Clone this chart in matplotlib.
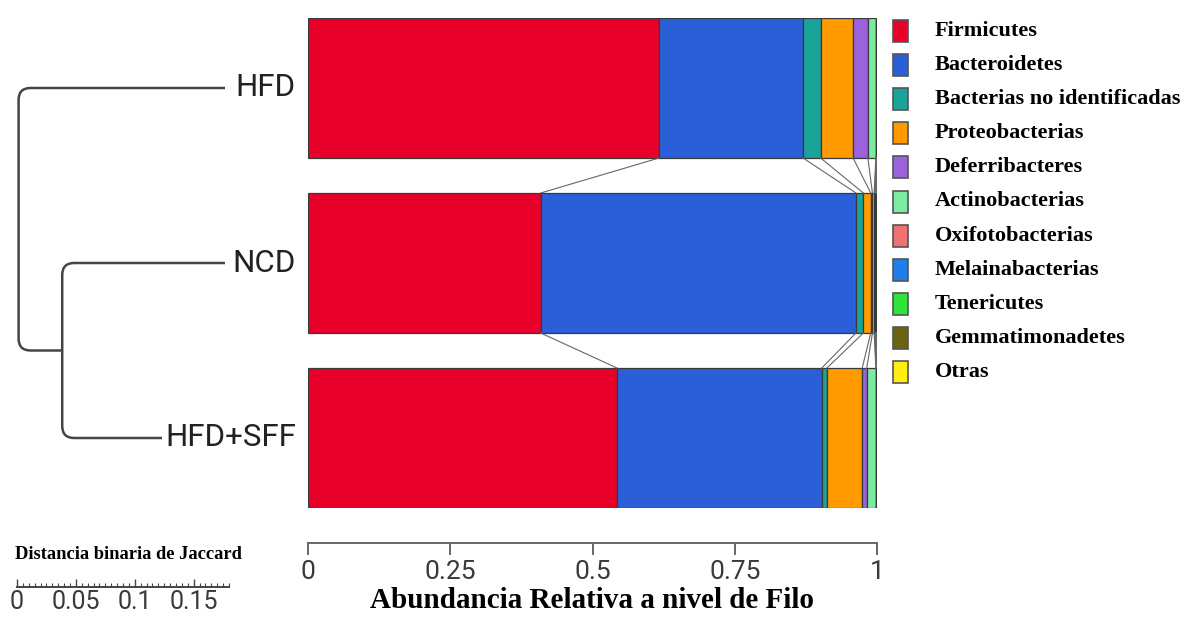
import matplotlib
matplotlib.use("Agg")
import matplotlib.pyplot as plt
from matplotlib.patches import Rectangle, PathPatch
from matplotlib.path import Path
import numpy as np

# ---- data ----
groups = ["HFD", "NCD", "HFD+SFF"]
phyla = ["Firmicutes", "Bacteroidetes", "Bacterias no identificadas",
         "Proteobacterias", "Deferribacteres", "Actinobacterias",
         "Oxifotobacterias", "Melainabacterias", "Tenericutes",
         "Gemmatimonadetes", "Otras"]
colors = ["#E8002A", "#2B5FD8", "#1AA398", "#FF9A00", "#9A63DC", "#7BEBA2",
          "#F07272", "#1F7FEA", "#30E43A", "#6A6410", "#FFEE10"]
abund_hfd = [0.617, 0.253, 0.031, 0.057, 0.026, 0.014, 0.0005, 0.0005, 0.0005, 0.0003, 0.0002]
abund_ncd = [0.409, 0.554, 0.013, 0.013, 0.003, 0.003, 0.001, 0.001, 0.001, 0.001, 0.001]
abund_sff = [0.543, 0.360, 0.009, 0.062, 0.008, 0.016, 0.0005, 0.0005, 0.0005, 0.0003, 0.0002]
abundances = [abund_hfd, abund_ncd, abund_sff]
xticks = [0, 0.25, 0.5, 0.75, 1]
xtick_labels = ["0", "0.25", "0.5", "0.75", "1"]

# Jaccard clustering heights: NCD + HFD+SFF first, then the root with HFD
merge_heights = [0.138, 0.175]
scale_ticks = [0, 0.05, 0.1, 0.15]
scale_labels = ["0", "0.05", "0.1", "0.15"]

W, H = 1185, 617
fig = plt.figure(figsize=(W / 100, H / 100), dpi=100)
fig.patch.set_facecolor("white")


def fbox(x0, y0, x1, y1):
    return [x0 / W, 1 - y1 / H, (x1 - x0) / W, (y1 - y0) / H]


sans = ["Roboto", "DejaVu Sans"]
serif = ["Liberation Serif", "DejaVu Serif"]

# ---- stacked bars ----
ax = fig.add_axes(fbox(308, 18, 877, 508))
ypos = np.arange(len(groups))
bar_h = 0.8
for gi, vals in enumerate(abundances):
    left = 0.0
    for pi, v in enumerate(vals):
        ax.barh(ypos[gi], v, left=left, height=bar_h, color=colors[pi],
                edgecolor="#3a3a3a", linewidth=0.9)
        left += v

# connectors between adjacent bars
for gi in range(len(groups) - 1):
    cu = np.cumsum(abundances[gi])[:-1]
    cl = np.cumsum(abundances[gi + 1])[:-1]
    for a, b in zip(cu, cl):
        ax.plot([a, b], [ypos[gi] + bar_h / 2, ypos[gi + 1] - bar_h / 2],
                color="#666666", lw=0.8)

ax.set_xlim(0, 1)
ax.set_ylim(len(groups) - 1 + 0.4, -0.4)
for s in ["top", "right", "left"]:
    ax.spines[s].set_visible(False)
ax.spines["bottom"].set_position(("outward", 25))
ax.spines["bottom"].set_color("#666666")
ax.spines["bottom"].set_linewidth(1.4)
ax.set_yticks([])
ax.set_xticks(xticks)
ax.set_xticklabels(xtick_labels, fontfamily=sans, fontsize=19, color="#3a3a3a")
ax.tick_params(axis="x", direction="out", length=8.5, width=1.4,
               color="#666666", pad=4)
ax.set_xlabel("Abundancia Relativa a nivel de Filo", fontfamily=serif,
              fontweight="bold", fontsize=21, labelpad=2, color="black")

# ---- dendrogram ----
dax = fig.add_axes(fbox(18, 18, 225, 508))
dax.set_xlim(0.1755, 0)
dax.set_ylim(len(groups) - 1 + 0.4, -0.4)
dax.axis("off")

px_x = (225 - 18) / 0.1755
px_y = 175.0
rad = 12


def bracket(y_top, y_bot, h, x_top_end, x_bot_end):
    rx = rad / px_x
    ry = rad / px_y
    verts = [(x_top_end, y_top), (h - rx, y_top), (h, y_top), (h, y_top + ry),
             (h, y_bot - ry), (h, y_bot), (h - rx, y_bot), (x_bot_end, y_bot)]
    codes = [Path.MOVETO, Path.LINETO, Path.CURVE3, Path.CURVE3,
             Path.LINETO, Path.CURVE3, Path.CURVE3, Path.LINETO]
    dax.add_patch(PathPatch(Path(verts, codes), fill=False, edgecolor="#454545",
                            lw=1.8, clip_on=False))


bracket(1, 2, merge_heights[0], 0, 0)
bracket(0, 1.5, merge_heights[1], 0, merge_heights[0])

for gi, g in enumerate(groups):
    dax.text(-71 / px_x, ypos[gi], g, ha="right", va="center",
             fontfamily=sans, fontsize=22.5, color="#222222",
             bbox=dict(facecolor="white", edgecolor="none", pad=2), clip_on=False)

# ---- distance scale ----
sax = fig.add_axes(fbox(17, 570, 229, 587))
sax.set_xlim(0, 0.18)
sax.set_ylim(0, 1)
for s in ["top", "right", "left"]:
    sax.spines[s].set_visible(False)
sax.spines["bottom"].set_color("#444444")
sax.spines["bottom"].set_linewidth(1.4)
sax.set_yticks([])
sax.set_xticks(scale_ticks)
sax.set_xticklabels(scale_labels, fontfamily=sans, fontsize=18, color="#3a3a3a")
sax.set_xticks(np.arange(0, 0.1801, 0.005), minor=True)
sax.tick_params(axis="x", which="major", direction="in", length=6, width=1,
                color="#444444", pad=2)
sax.tick_params(axis="x", which="minor", direction="in", length=3, width=0.8,
                color="#444444")
fig.text(15 / W, 1 - 559 / H, "Distancia binaria de Jaccard", fontfamily=serif,
         fontweight="bold", fontsize=13.3, ha="left", va="baseline")

# ---- legend ----
for i, (name, c) in enumerate(zip(phyla, colors)):
    yc = 31 + i * 34.1
    fig.patches.append(Rectangle((893 / W, 1 - (yc + 11) / H), 15 / W, 22 / H,
                                 transform=fig.transFigure, facecolor=c,
                                 edgecolor="#555555", lw=1.2))
    fig.text(935 / W, 1 - yc / H, name, fontfamily=serif, fontweight="bold",
             fontsize=16, ha="left", va="center")

fig.savefig("out.png", dpi=100, facecolor="white")
